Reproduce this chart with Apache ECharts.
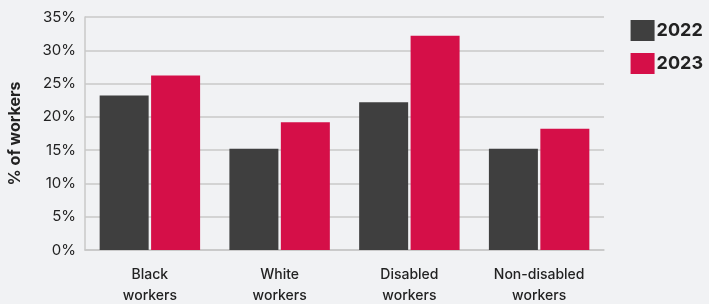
<!DOCTYPE html>
<html><head><meta charset="utf-8">
<script src="https://cdn.jsdelivr.net/npm/echarts@6/dist/echarts.min.js"></script>
<style>html,body{margin:0;padding:0;background:#f1f2f4}#c{width:709px;height:304px}</style>
</head><body><div id="c"></div>
<script>
const categories = ['Black\nworkers', 'White\nworkers', 'Disabled\nworkers', 'Non-disabled\nworkers'];
const values2022 = [23.2, 15.2, 22.2, 15.2];
const values2023 = [26.2, 19.2, 32.2, 18.2];
const seriesNames = ['2022', '2023'];
const yTicks = { min: 0, max: 35, interval: 5 };

const chart = echarts.init(document.getElementById('c'));
chart.setOption({
  backgroundColor: '#f1f2f4',
  textStyle: { fontFamily: 'Inter, Roboto, sans-serif' },
  grid: { left: 85, right: 105, top: 17, bottom: 54, outerBoundsMode: 'none', containLabel: false },
  legend: {
    right: 1, top: 15, orient: 'vertical', itemWidth: 24, itemHeight: 21, itemGap: 12,
    icon: 'rect',
    textStyle: { fontSize: 18, fontWeight: 'bold', color: '#222', padding: [0, 0, 0, -3] },
    data: seriesNames
  },
  xAxis: {
    type: 'category', data: categories,
    axisLine: { lineStyle: { color: '#c8c8c8', width: 1.5 } },
    axisTick: { inside: true, length: 6, lineStyle: { color: '#c8c8c8' } },
    axisLabel: { fontSize: 14, fontWeight: 500, color: '#222', lineHeight: 21, margin: 14 }
  },
  yAxis: {
    type: 'value', min: yTicks.min, max: yTicks.max, interval: yTicks.interval,
    name: '% of workers', nameLocation: 'middle', nameGap: 62,
    nameTextStyle: { fontSize: 16, fontWeight: 'bold', color: '#222' },
    axisLine: { show: true, lineStyle: { color: '#c8c8c8', width: 1.5 } },
    splitLine: { lineStyle: { color: '#c8c8c8', width: 1.5 } },
    axisLabel: { fontSize: 15, color: '#222', formatter: '{value}%', margin: 9 }
  },
  series: [
    { name: seriesNames[0], type: 'bar', data: values2022, barWidth: 49, barGap: '5%',
      itemStyle: { color: '#3f3f3f' } },
    { name: seriesNames[1], type: 'bar', data: values2023, barWidth: 49,
      itemStyle: { color: '#d50f48' } }
  ]
});
</script></body></html>
